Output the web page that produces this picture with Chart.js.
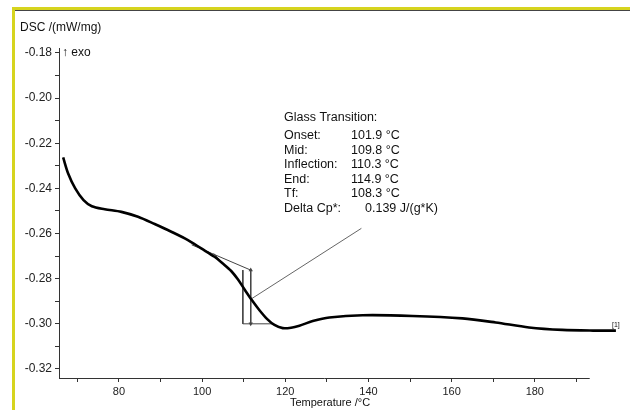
<!DOCTYPE html>
<html>
<head>
<meta charset="utf-8">
<script src="https://cdn.jsdelivr.net/npm/chart.js@4.4.1/dist/chart.umd.min.js"></script>
<style>
  html, body { margin: 0; padding: 0; background: #fff; }
  canvas { display: block; }
</style>
</head>
<body>
<canvas id="dsc" width="630" height="410"></canvas>
<script>
// DSC trace
const tempC = [66.6, 67.8, 69.5, 71.5, 73.5, 76.6, 80.6, 84.6, 88.6, 92.6, 96.6, 99.8,
  103.0, 105.0, 107.0, 108.6, 110.3, 112.0, 113.8, 115.6, 117.4, 119.4, 121.4, 123.4,
  126.6, 130.6, 138.6, 150.6, 162.6, 170.6, 178.6, 186.6, 194.0, 199.5];
const dscVals = [-0.2263, -0.2334, -0.2400, -0.2452, -0.2479, -0.2492, -0.2504, -0.2526,
  -0.2558, -0.2592, -0.2629, -0.2666, -0.2703, -0.2733, -0.2766, -0.2803, -0.2850,
  -0.2896, -0.2940, -0.2978, -0.3005, -0.3019, -0.3017, -0.3008, -0.2988, -0.2972,
  -0.2962, -0.2965, -0.2976, -0.2994, -0.3016, -0.3027, -0.3030, -0.3030];

// glass transition construction lines
const tangentT = [97.5, 111.7];
const tangentV = [-0.2650, -0.2762];
const innerT = [102.8, 104.8];
const innerV = [-0.2688, -0.2730];
const leftVertT = [109.8, 109.8];
const leftVertV = [-0.2762, -0.3000];
const baseT = [109.8, 116.9];
const baseV = [-0.3000, -0.3000];
const stepT = [111.7, 111.7];
const stepV = [-0.2762, -0.3000];
const leaderT = [111.8, 138.3];
const leaderV = [-0.2890, -0.2577];

const resultLabels = ['Onset:', 'Mid:', 'Inflection:', 'End:', 'Tf:', 'Delta Cp*:'];
const resultValues = ['101.9 °C', '109.8 °C', '110.3 °C', '114.9 °C', '108.3 °C', '0.139 J/(g*K)'];

const FONT = '"Liberation Sans", Arial, sans-serif';

function pts(xs, ys) {
  return xs.map((x, i) => ({ x: x, y: ys[i] }));
}

function thin(xs, ys, extra) {
  return Object.assign({
    data: pts(xs, ys),
    showLine: true,
    borderColor: '#444',
    borderWidth: 1,
    pointRadius: 0,
  }, extra || {});
}

const framePlugin = {
  id: 'frame',
  beforeDraw(chart) {
    const ctx = chart.ctx;
    ctx.save();
    ctx.fillStyle = '#fff';
    ctx.fillRect(0, 0, chart.width, chart.height);
    ctx.fillStyle = '#d6d41e';
    ctx.fillRect(12, 7, chart.width - 12, 3);
    ctx.fillRect(12, 7, 3, chart.height - 7);
    ctx.fillStyle = '#444';
    ctx.fillRect(15, 10, chart.width - 15, 1);
    ctx.restore();
  },
  afterDraw(chart) {
    const ctx = chart.ctx;
    const xs = chart.scales.x;
    const area = chart.chartArea;
    ctx.save();
    // x axis line stops near 193 °C like the original
    ctx.strokeStyle = '#333';
    ctx.lineWidth = 1;
    ctx.beginPath();
    ctx.moveTo(area.left, area.bottom + 0.5);
    ctx.lineTo(xs.getPixelForValue(193.2), area.bottom + 0.5);
    ctx.stroke();

    ctx.fillStyle = '#111';
    ctx.textBaseline = 'middle';
    ctx.font = '12px ' + FONT;
    ctx.textAlign = 'left';
    ctx.fillText('DSC /(mW/mg)', 20, 28);
    ctx.fillText('\u2191 exo', 62, 53);

    ctx.font = '11px ' + FONT;
    ctx.textAlign = 'center';
    ctx.fillText('Temperature /°C', 330, 403);

    ctx.font = '12.5px ' + FONT;
    ctx.textAlign = 'left';
    ctx.fillText('Glass Transition:', 284, 118);
    resultLabels.forEach((lab, i) => {
      const y = 136 + i * 14.5;
      ctx.fillText(lab, 284, y);
      ctx.fillText(resultValues[i], i === 5 ? 365 : 351, y);
    });

    ctx.font = '7px ' + FONT;
    ctx.fillText('[1]', 612, 325);
    ctx.restore();
  }
};

new Chart(document.getElementById('dsc'), {
  type: 'scatter',
  data: {
    datasets: [
      {
        data: pts(tempC, dscVals),
        showLine: true,
        borderColor: '#000',
        borderWidth: 2.6,
        pointRadius: 0,
        tension: 0.3,
      },
      thin(tangentT, tangentV),
      thin(innerT, innerV),
      thin(leftVertT, leftVertV),
      thin(baseT, baseV),
      thin(stepT, stepV, {
        pointRadius: 2.5,
        pointStyle: 'triangle',
        rotation: [0, 180],
        pointBackgroundColor: '#444',
        pointBorderWidth: 0,
      }),
      thin(leaderT, leaderV, { borderColor: '#666' }),
    ],
  },
  options: {
    responsive: false,
    devicePixelRatio: 1,
    animation: false,
    layout: { padding: { top: 48, right: 12, left: 0, bottom: 0 } },
    plugins: { legend: { display: false }, tooltip: { enabled: false } },
    scales: {
      x: {
        type: 'linear',
        min: 65.6,
        max: 200,
        afterFit(scale) { scale.height = 32; },
        border: { display: false },
        grid: {
          drawOnChartArea: false,
          tickLength: 4,
          color: (c) => (c.tick && c.tick.value > 193 ? 'rgba(0,0,0,0)' : '#333'),
        },
        ticks: {
          stepSize: 10,
          includeBounds: false,
          autoSkip: false,
          maxRotation: 0,
          padding: 3,
          color: '#222',
          font: { family: FONT, size: 11 },
          callback: (v) => (Math.round(v) % 20 === 0 && v < 193 ? String(Math.round(v)) : ''),
        },
      },
      y: {
        min: -0.324,
        max: -0.1778,
        afterFit(scale) { scale.width = 59; },
        border: { display: true, color: '#333', width: 1 },
        grid: { drawOnChartArea: false, tickLength: 4, color: '#333' },
        ticks: {
          stepSize: 0.01,
          includeBounds: false,
          autoSkip: false,
          padding: 3,
          color: '#222',
          font: { family: FONT, size: 12 },
          callback: (v) => (Math.round(v * 100) % 2 === 0 ? v.toFixed(2) : ''),
        },
      },
    },
  },
  plugins: [framePlugin],
});
</script>
</body>
</html>
